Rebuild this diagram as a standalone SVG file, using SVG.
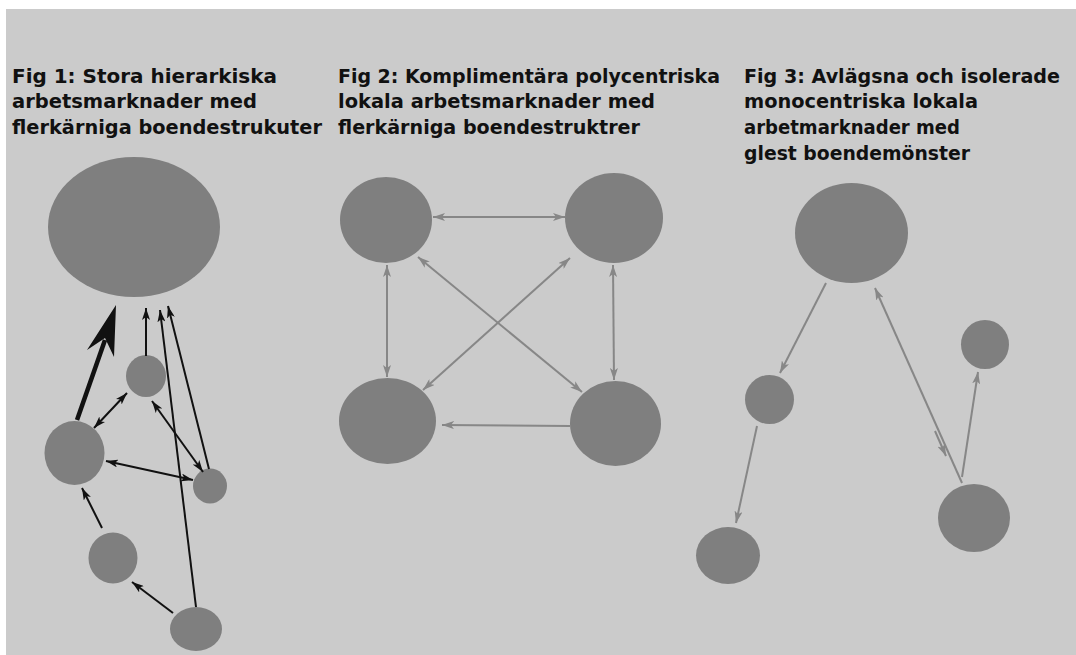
<svg xmlns="http://www.w3.org/2000/svg" width="1076" height="655" viewBox="0 0 1076 655">
<style>
.bg{fill:#cbcbcb}
.node{fill:#7f7f7f}
.t{font-family:"DejaVu Sans","Liberation Sans",sans-serif;font-weight:bold;font-size:20px;fill:#111}
.cb{stroke:#111;stroke-width:2;fill:none}
.cg{stroke:#878787;stroke-width:2;fill:none}
</style>
<defs>
<marker id="ab" viewBox="0 0 12 8" refX="12" refY="4" markerUnits="userSpaceOnUse" markerWidth="12" markerHeight="8" orient="auto-start-reverse">
<path d="M0,0 L12,4 L0,8 L3,4 z" fill="#111"/>
</marker>
<marker id="ag" viewBox="0 0 12 8" refX="12" refY="4" markerUnits="userSpaceOnUse" markerWidth="12" markerHeight="8" orient="auto-start-reverse">
<path d="M0,0 L12,4 L0,8 L3,4 z" fill="#878787"/>
</marker>
</defs>
<rect width="1076" height="655" fill="#ffffff"/>
<rect class="bg" x="6" y="9" width="1070" height="646"/>

<g id="titles">
<text class="t" x="12" y="83" textLength="265" lengthAdjust="spacingAndGlyphs">Fig 1: Stora hierarkiska</text>
<text class="t" x="12" y="108" textLength="245" lengthAdjust="spacingAndGlyphs">arbetsmarknader med</text>
<text class="t" x="12" y="134" textLength="310" lengthAdjust="spacingAndGlyphs">flerkärniga boendestrukuter</text>
<text class="t" x="338" y="83" textLength="382" lengthAdjust="spacingAndGlyphs">Fig 2: Komplimentära polycentriska</text>
<text class="t" x="338" y="108" textLength="317" lengthAdjust="spacingAndGlyphs">lokala arbetsmarknader med</text>
<text class="t" x="338" y="134" textLength="302" lengthAdjust="spacingAndGlyphs">flerkärniga boendestruktrer</text>
<text class="t" x="744" y="83" textLength="316" lengthAdjust="spacingAndGlyphs">Fig 3: Avlägsna och isolerade</text>
<text class="t" x="744" y="108" textLength="234" lengthAdjust="spacingAndGlyphs">monocentriska lokala</text>
<text class="t" x="744" y="134" textLength="216" lengthAdjust="spacingAndGlyphs">arbetmarknader med</text>
<text class="t" x="744" y="160" textLength="226" lengthAdjust="spacingAndGlyphs">glest boendemönster</text>
</g>

<g id="f1-big"><ellipse class="node" cx="134" cy="227" rx="86" ry="70"/></g>
<g id="f1-a"><ellipse class="node" cx="146" cy="376" rx="20" ry="21"/></g>
<g id="f1-b"><ellipse class="node" cx="74.5" cy="453" rx="30" ry="32"/></g>
<g id="f1-c"><ellipse class="node" cx="210" cy="486" rx="17" ry="17.5"/></g>
<g id="f1-d"><ellipse class="node" cx="113" cy="558" rx="24.5" ry="25.5"/></g>
<g id="f1-e"><ellipse class="node" cx="196" cy="629" rx="26" ry="22"/></g>

<g id="f2-tl"><ellipse class="node" cx="386" cy="220" rx="46" ry="43"/></g>
<g id="f2-tr"><ellipse class="node" cx="614" cy="218" rx="49" ry="45"/></g>
<g id="f2-bl"><ellipse class="node" cx="387.5" cy="421" rx="48.5" ry="43"/></g>
<g id="f2-br"><ellipse class="node" cx="615.5" cy="423.5" rx="45.5" ry="42.5"/></g>

<g id="f3-top"><ellipse class="node" cx="851.5" cy="233" rx="56.5" ry="50"/></g>
<g id="f3-ls"><ellipse class="node" cx="769.5" cy="399.5" rx="24.5" ry="24.5"/></g>
<g id="f3-bl"><ellipse class="node" cx="728" cy="555.5" rx="32" ry="28.5"/></g>
<g id="f3-rs"><ellipse class="node" cx="985" cy="344.5" rx="24" ry="24.5"/></g>
<g id="f3-br"><ellipse class="node" cx="974" cy="518" rx="36" ry="34"/></g>

<g id="connectors">
<line x1="77" y1="420" x2="105" y2="340" stroke="#111" stroke-width="4.5"/>
<polygon points="116,305 87,350 105,338 114,357" fill="#111"/>
<line class="cb" x1="146" y1="356" x2="146" y2="308" marker-end="url(#ab)"/>
<line class="cb" x1="196" y1="607" x2="160" y2="310" marker-end="url(#ab)"/>
<line class="cb" x1="209" y1="469" x2="168" y2="306" marker-end="url(#ab)"/>
<line class="cb" x1="94" y1="428" x2="127" y2="393" marker-start="url(#ab)" marker-end="url(#ab)"/>
<line class="cb" x1="203" y1="472" x2="152" y2="401" marker-start="url(#ab)" marker-end="url(#ab)"/>
<line class="cb" x1="106" y1="461" x2="193" y2="480" marker-start="url(#ab)" marker-end="url(#ab)"/>
<line class="cb" x1="102" y1="528" x2="82" y2="488" marker-end="url(#ab)"/>
<line class="cb" x1="173" y1="613" x2="132" y2="582" marker-end="url(#ab)"/>

<line class="cg" x1="433" y1="217" x2="565" y2="217" marker-start="url(#ag)" marker-end="url(#ag)"/>
<line class="cg" x1="387" y1="265" x2="387" y2="377" marker-start="url(#ag)" marker-end="url(#ag)"/>
<line class="cg" x1="613" y1="265" x2="614" y2="380" marker-start="url(#ag)" marker-end="url(#ag)"/>
<line class="cg" x1="570" y1="426" x2="442" y2="425" marker-end="url(#ag)"/>
<line class="cg" x1="418" y1="257" x2="582" y2="392" marker-start="url(#ag)" marker-end="url(#ag)"/>
<line class="cg" x1="423" y1="390" x2="570" y2="258" marker-start="url(#ag)" marker-end="url(#ag)"/>

<line class="cg" x1="826" y1="283" x2="780" y2="373" marker-end="url(#ag)"/>
<line class="cg" x1="757" y1="426" x2="736" y2="523" marker-end="url(#ag)"/>
<line class="cg" x1="962" y1="483" x2="875" y2="288" marker-end="url(#ag)"/>
<line class="cg" x1="935" y1="431" x2="946" y2="456" marker-end="url(#ag)"/>
<line class="cg" x1="962" y1="477" x2="978" y2="372" marker-end="url(#ag)"/>
</g>
</svg>
